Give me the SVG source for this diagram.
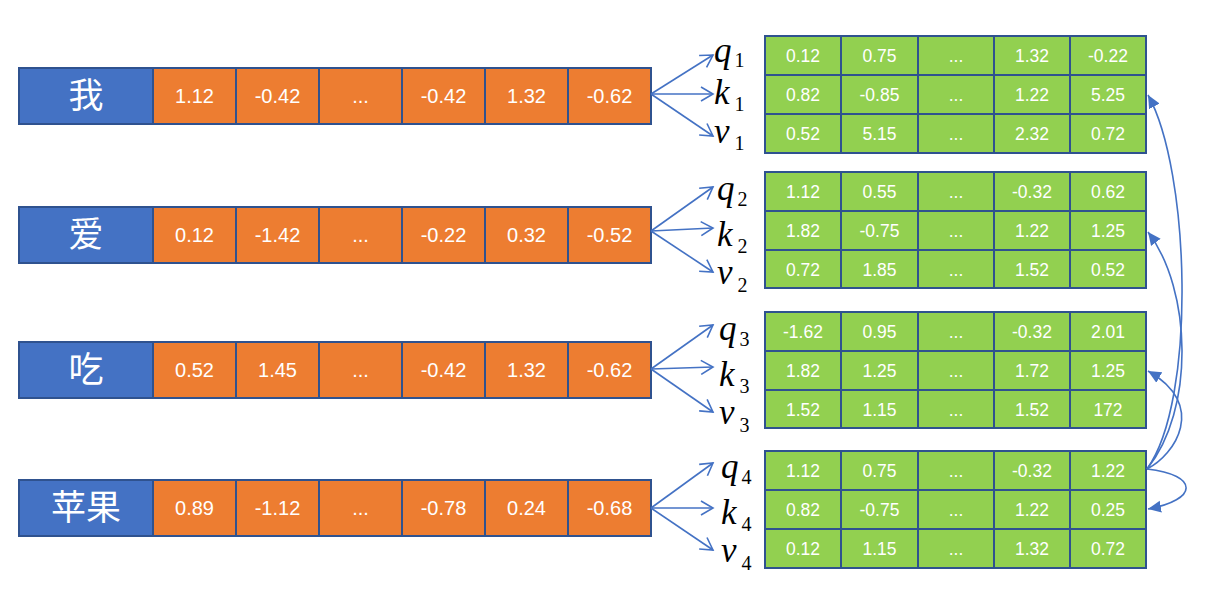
<svg xmlns="http://www.w3.org/2000/svg" width="1215" height="601" viewBox="0 0 1215 601">
<defs>
<marker id="open" markerUnits="userSpaceOnUse" markerWidth="16" markerHeight="16" viewBox="0 0 16 16" refX="14" refY="8" orient="auto">
<path d="M2,1 L14,8 L2,15" fill="none" stroke="#4472C4" stroke-width="1.6"/>
</marker>
<marker id="solid" markerUnits="userSpaceOnUse" markerWidth="14" markerHeight="14" viewBox="0 0 14 14" refX="13" refY="7" orient="auto">
<path d="M0,1 L13,7 L0,13 Z" fill="#4472C4"/>
</marker>
</defs>
<style>
.word{fill:#4472C4;stroke:#2F528F;stroke-width:2}
.or{fill:#ED7D31;stroke:#2F528F;stroke-width:2}
.gr{fill:#92D050;stroke:#2F528F;stroke-width:2}
.wt{font-family:"Noto Sans CJK SC","Noto Sans",sans-serif;font-size:35px;fill:#fff;text-anchor:middle}
.ot{font-family:"Liberation Sans",Arial,sans-serif;font-size:20px;fill:#fff;text-anchor:middle}
.gt{font-family:"Liberation Sans",Arial,sans-serif;font-size:17.5px;fill:#fff;text-anchor:middle}
.lb{font-family:"Liberation Serif","Times New Roman",serif;font-style:italic;font-size:35px;fill:#000}
.sb{font-style:normal;font-size:20px}
.ln{fill:none;stroke:#4472C4;stroke-width:1.6}
</style>

<g id="row1">
<rect class="word" x="19" y="68" width="134" height="56"/>
<rect class="or" x="153" y="68" width="83" height="56"/><rect class="or" x="236" y="68" width="83" height="56"/><rect class="or" x="319" y="68" width="83" height="56"/><rect class="or" x="402" y="68" width="83" height="56"/><rect class="or" x="485" y="68" width="83" height="56"/><rect class="or" x="568" y="68" width="83" height="56"/>
<text class="wt" x="86" y="108">我</text>
<text class="ot" x="194.5" y="103">1.12</text><text class="ot" x="277.5" y="103">-0.42</text><text class="ot" x="360.5" y="103">...</text><text class="ot" x="443.5" y="103">-0.42</text><text class="ot" x="526.5" y="103">1.32</text><text class="ot" x="609.5" y="103">-0.62</text>
</g>
<g id="row2">
<rect class="word" x="19" y="207" width="134" height="56"/>
<rect class="or" x="153" y="207" width="83" height="56"/><rect class="or" x="236" y="207" width="83" height="56"/><rect class="or" x="319" y="207" width="83" height="56"/><rect class="or" x="402" y="207" width="83" height="56"/><rect class="or" x="485" y="207" width="83" height="56"/><rect class="or" x="568" y="207" width="83" height="56"/>
<text class="wt" x="86" y="247">爱</text>
<text class="ot" x="194.5" y="242">0.12</text><text class="ot" x="277.5" y="242">-1.42</text><text class="ot" x="360.5" y="242">...</text><text class="ot" x="443.5" y="242">-0.22</text><text class="ot" x="526.5" y="242">0.32</text><text class="ot" x="609.5" y="242">-0.52</text>
</g>
<g id="row3">
<rect class="word" x="19" y="342" width="134" height="56"/>
<rect class="or" x="153" y="342" width="83" height="56"/><rect class="or" x="236" y="342" width="83" height="56"/><rect class="or" x="319" y="342" width="83" height="56"/><rect class="or" x="402" y="342" width="83" height="56"/><rect class="or" x="485" y="342" width="83" height="56"/><rect class="or" x="568" y="342" width="83" height="56"/>
<text class="wt" x="86" y="382">吃</text>
<text class="ot" x="194.5" y="377">0.52</text><text class="ot" x="277.5" y="377">1.45</text><text class="ot" x="360.5" y="377">...</text><text class="ot" x="443.5" y="377">-0.42</text><text class="ot" x="526.5" y="377">1.32</text><text class="ot" x="609.5" y="377">-0.62</text>
</g>
<g id="row4">
<rect class="word" x="19" y="480" width="134" height="56"/>
<rect class="or" x="153" y="480" width="83" height="56"/><rect class="or" x="236" y="480" width="83" height="56"/><rect class="or" x="319" y="480" width="83" height="56"/><rect class="or" x="402" y="480" width="83" height="56"/><rect class="or" x="485" y="480" width="83" height="56"/><rect class="or" x="568" y="480" width="83" height="56"/>
<text class="wt" x="86" y="520">苹果</text>
<text class="ot" x="194.5" y="515">0.89</text><text class="ot" x="277.5" y="515">-1.12</text><text class="ot" x="360.5" y="515">...</text><text class="ot" x="443.5" y="515">-0.78</text><text class="ot" x="526.5" y="515">0.24</text><text class="ot" x="609.5" y="515">-0.68</text>
</g>

<g id="labels1">
<text class="lb" x="714" y="62">q<tspan class="sb" dx="3" dy="5">1</tspan></text>
<text class="lb" x="714" y="104">k<tspan class="sb" dx="5" dy="7">1</tspan></text>
<text class="lb" x="714" y="143">v<tspan class="sb" dx="5" dy="7">1</tspan></text>
</g>
<g id="labels2">
<text class="lb" x="717" y="200">q<tspan class="sb" dx="3" dy="6">2</tspan></text>
<text class="lb" x="717" y="246">k<tspan class="sb" dx="5" dy="7">2</tspan></text>
<text class="lb" x="717" y="284">v<tspan class="sb" dx="5" dy="8">2</tspan></text>
</g>
<g id="labels3">
<text class="lb" x="719" y="340">q<tspan class="sb" dx="3" dy="6">3</tspan></text>
<text class="lb" x="719" y="386">k<tspan class="sb" dx="5" dy="7">3</tspan></text>
<text class="lb" x="719" y="424">v<tspan class="sb" dx="5" dy="8">3</tspan></text>
</g>
<g id="labels4">
<text class="lb" x="721" y="478">q<tspan class="sb" dx="3" dy="6">4</tspan></text>
<text class="lb" x="721" y="524">k<tspan class="sb" dx="5" dy="7">4</tspan></text>
<text class="lb" x="721" y="562">v<tspan class="sb" dx="5" dy="8">4</tspan></text>
</g>

<g id="table1">
<rect class="gr" x="765" y="36" width="76" height="39"/><rect class="gr" x="841" y="36" width="77" height="39"/><rect class="gr" x="918" y="36" width="76" height="39"/><rect class="gr" x="994" y="36" width="76" height="39"/><rect class="gr" x="1070" y="36" width="76" height="39"/>
<rect class="gr" x="765" y="75" width="76" height="39"/><rect class="gr" x="841" y="75" width="77" height="39"/><rect class="gr" x="918" y="75" width="76" height="39"/><rect class="gr" x="994" y="75" width="76" height="39"/><rect class="gr" x="1070" y="75" width="76" height="39"/>
<rect class="gr" x="765" y="114" width="76" height="39"/><rect class="gr" x="841" y="114" width="77" height="39"/><rect class="gr" x="918" y="114" width="76" height="39"/><rect class="gr" x="994" y="114" width="76" height="39"/><rect class="gr" x="1070" y="114" width="76" height="39"/>
<text class="gt" x="803" y="62">0.12</text><text class="gt" x="879.5" y="62">0.75</text><text class="gt" x="956" y="62">...</text><text class="gt" x="1032" y="62">1.32</text><text class="gt" x="1108" y="62">-0.22</text>
<text class="gt" x="803" y="101">0.82</text><text class="gt" x="879.5" y="101">-0.85</text><text class="gt" x="956" y="101">...</text><text class="gt" x="1032" y="101">1.22</text><text class="gt" x="1108" y="101">5.25</text>
<text class="gt" x="803" y="140">0.52</text><text class="gt" x="879.5" y="140">5.15</text><text class="gt" x="956" y="140">...</text><text class="gt" x="1032" y="140">2.32</text><text class="gt" x="1108" y="140">0.72</text>
</g>
<g id="table2">
<rect class="gr" x="765" y="172" width="76" height="39"/><rect class="gr" x="841" y="172" width="77" height="39"/><rect class="gr" x="918" y="172" width="76" height="39"/><rect class="gr" x="994" y="172" width="76" height="39"/><rect class="gr" x="1070" y="172" width="76" height="39"/>
<rect class="gr" x="765" y="211" width="76" height="39"/><rect class="gr" x="841" y="211" width="77" height="39"/><rect class="gr" x="918" y="211" width="76" height="39"/><rect class="gr" x="994" y="211" width="76" height="39"/><rect class="gr" x="1070" y="211" width="76" height="39"/>
<rect class="gr" x="765" y="250" width="76" height="38"/><rect class="gr" x="841" y="250" width="77" height="38"/><rect class="gr" x="918" y="250" width="76" height="38"/><rect class="gr" x="994" y="250" width="76" height="38"/><rect class="gr" x="1070" y="250" width="76" height="38"/>
<text class="gt" x="803" y="198">1.12</text><text class="gt" x="879.5" y="198">0.55</text><text class="gt" x="956" y="198">...</text><text class="gt" x="1032" y="198">-0.32</text><text class="gt" x="1108" y="198">0.62</text>
<text class="gt" x="803" y="237">1.82</text><text class="gt" x="879.5" y="237">-0.75</text><text class="gt" x="956" y="237">...</text><text class="gt" x="1032" y="237">1.22</text><text class="gt" x="1108" y="237">1.25</text>
<text class="gt" x="803" y="276">0.72</text><text class="gt" x="879.5" y="276">1.85</text><text class="gt" x="956" y="276">...</text><text class="gt" x="1032" y="276">1.52</text><text class="gt" x="1108" y="276">0.52</text>
</g>
<g id="table3">
<rect class="gr" x="765" y="312" width="76" height="39"/><rect class="gr" x="841" y="312" width="77" height="39"/><rect class="gr" x="918" y="312" width="76" height="39"/><rect class="gr" x="994" y="312" width="76" height="39"/><rect class="gr" x="1070" y="312" width="76" height="39"/>
<rect class="gr" x="765" y="351" width="76" height="39"/><rect class="gr" x="841" y="351" width="77" height="39"/><rect class="gr" x="918" y="351" width="76" height="39"/><rect class="gr" x="994" y="351" width="76" height="39"/><rect class="gr" x="1070" y="351" width="76" height="39"/>
<rect class="gr" x="765" y="390" width="76" height="38"/><rect class="gr" x="841" y="390" width="77" height="38"/><rect class="gr" x="918" y="390" width="76" height="38"/><rect class="gr" x="994" y="390" width="76" height="38"/><rect class="gr" x="1070" y="390" width="76" height="38"/>
<text class="gt" x="803" y="338">-1.62</text><text class="gt" x="879.5" y="338">0.95</text><text class="gt" x="956" y="338">...</text><text class="gt" x="1032" y="338">-0.32</text><text class="gt" x="1108" y="338">2.01</text>
<text class="gt" x="803" y="377">1.82</text><text class="gt" x="879.5" y="377">1.25</text><text class="gt" x="956" y="377">...</text><text class="gt" x="1032" y="377">1.72</text><text class="gt" x="1108" y="377">1.25</text>
<text class="gt" x="803" y="416">1.52</text><text class="gt" x="879.5" y="416">1.15</text><text class="gt" x="956" y="416">...</text><text class="gt" x="1032" y="416">1.52</text><text class="gt" x="1108" y="416">172</text>
</g>
<g id="table4">
<rect class="gr" x="765" y="451" width="76" height="39"/><rect class="gr" x="841" y="451" width="77" height="39"/><rect class="gr" x="918" y="451" width="76" height="39"/><rect class="gr" x="994" y="451" width="76" height="39"/><rect class="gr" x="1070" y="451" width="76" height="39"/>
<rect class="gr" x="765" y="490" width="76" height="39"/><rect class="gr" x="841" y="490" width="77" height="39"/><rect class="gr" x="918" y="490" width="76" height="39"/><rect class="gr" x="994" y="490" width="76" height="39"/><rect class="gr" x="1070" y="490" width="76" height="39"/>
<rect class="gr" x="765" y="529" width="76" height="39"/><rect class="gr" x="841" y="529" width="77" height="39"/><rect class="gr" x="918" y="529" width="76" height="39"/><rect class="gr" x="994" y="529" width="76" height="39"/><rect class="gr" x="1070" y="529" width="76" height="39"/>
<text class="gt" x="803" y="477">1.12</text><text class="gt" x="879.5" y="477">0.75</text><text class="gt" x="956" y="477">...</text><text class="gt" x="1032" y="477">-0.32</text><text class="gt" x="1108" y="477">1.22</text>
<text class="gt" x="803" y="516">0.82</text><text class="gt" x="879.5" y="516">-0.75</text><text class="gt" x="956" y="516">...</text><text class="gt" x="1032" y="516">1.22</text><text class="gt" x="1108" y="516">0.25</text>
<text class="gt" x="803" y="555">0.12</text><text class="gt" x="879.5" y="555">1.15</text><text class="gt" x="956" y="555">...</text><text class="gt" x="1032" y="555">1.32</text><text class="gt" x="1108" y="555">0.72</text>
</g>

<g id="connectors">
<path class="ln" marker-end="url(#open)" d="M651,94 L713,55"/>
<path class="ln" marker-end="url(#open)" d="M651,94 L713,94"/>
<path class="ln" marker-end="url(#open)" d="M651,94 L713,136"/>
<path class="ln" marker-end="url(#open)" d="M651,231 L713,187"/>
<path class="ln" marker-end="url(#open)" d="M651,231 L713,228"/>
<path class="ln" marker-end="url(#open)" d="M651,231 L713,272"/>
<path class="ln" marker-end="url(#open)" d="M651,369 L713,325"/>
<path class="ln" marker-end="url(#open)" d="M651,369 L713,367"/>
<path class="ln" marker-end="url(#open)" d="M651,369 L713,412"/>
<path class="ln" marker-end="url(#open)" d="M651,508 L713,463"/>
<path class="ln" marker-end="url(#open)" d="M651,508 L713,508"/>
<path class="ln" marker-end="url(#open)" d="M651,508 L713,550"/>
<path class="ln" marker-end="url(#solid)" d="M1147,469 C1197,400 1190,170 1148,95"/>
<path class="ln" marker-end="url(#solid)" d="M1147,469 C1195,410 1192,290 1148,232"/>
<path class="ln" marker-end="url(#solid)" d="M1147,469 C1175,455 1208,405 1148,371"/>
<path class="ln" marker-end="url(#solid)" d="M1147,469 C1200,475 1198,500 1148,509"/>
</g>
</svg>
